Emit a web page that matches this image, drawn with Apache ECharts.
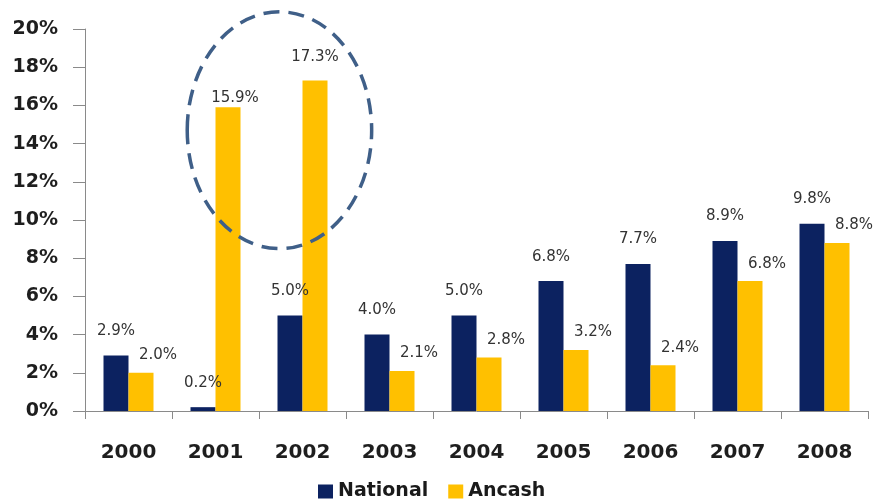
<!DOCTYPE html>
<html>
<head>
<meta charset="utf-8">
<script src="https://cdn.jsdelivr.net/npm/echarts@6/dist/echarts.min.js"></script>
<style>
html,body{margin:0;padding:0;background:#fff;}
#c{width:881px;height:503px;}
</style>
</head>
<body>
<div id="c"></div>
<script>
const years = ['2000','2001','2002','2003','2004','2005','2006','2007','2008'];
const national = [2.9, 0.2, 5.0, 4.0, 5.0, 6.8, 7.7, 8.9, 9.8];
const ancash = [2.0, 15.9, 17.3, 2.1, 2.8, 3.2, 2.4, 6.8, 8.8];
const yTicks = [0, 2, 4, 6, 8, 10, 12, 14, 16, 18, 20];

const NAVY = '#0c2260';
const GOLD = '#ffc000';
const AXIS = '#8a8a8a';

// label tweaks for the two highlighted bars (style only)
const ancashLabelOffset = {1: [7, 8], 2: [0, -6]};

const chart = echarts.init(document.getElementById('c'), null, {renderer: 'canvas'});

const option = {
  animation: false,
  backgroundColor: '#ffffff',
  grid: {left: 85, right: 13, top: 29, bottom: 92, containLabel: false},
  legend: {
    data: ['National', 'Ancash'],
    left: 313, top: 477,
    itemWidth: 15, itemHeight: 14, itemGap: 20,
    icon: 'rect',
    textStyle: {fontFamily: 'DejaVu Sans', fontWeight: 'bold', fontSize: 19, color: '#1a1a1a'}
  },
  xAxis: {
    type: 'category',
    data: years,
    axisLine: {lineStyle: {color: AXIS, width: 1}},
    axisTick: {show: true, length: 8, lineStyle: {color: AXIS}},
    axisLabel: {margin: 32, fontFamily: 'DejaVu Sans', fontWeight: 'bold', fontSize: 20, color: '#1e1e1e'},
    splitLine: {show: false}
  },
  yAxis: {
    type: 'value',
    min: yTicks[0], max: yTicks[yTicks.length - 1], interval: yTicks[1] - yTicks[0],
    axisLine: {show: true, lineStyle: {color: AXIS, width: 1}},
    axisTick: {show: true, length: 12, lineStyle: {color: AXIS}},
    axisLabel: {margin: 27, fontFamily: 'DejaVu Sans', fontWeight: 'bold', fontSize: 19, color: '#1e1e1e',
      formatter: v => v + '%'},
    splitLine: {show: false}
  },
  series: [
    {
      name: 'National', type: 'bar', data: national,
      barWidth: 25, barGap: '0%',
      itemStyle: {color: NAVY},
      label: {show: true, position: 'top', distance: 17, fontFamily: 'DejaVu Sans', fontSize: 15, color: '#333',
        formatter: p => p.value.toFixed(1) + '%'}
    },
    {
      name: 'Ancash', type: 'bar',
      data: ancash.map((v, i) => ancashLabelOffset[i] ? {value: v, label: {offset: ancashLabelOffset[i]}} : v),
      barWidth: 25, barGap: '0%',
      itemStyle: {color: GOLD},
      label: {show: true, position: 'top', distance: 10, offset: [17, 0], fontFamily: 'DejaVu Sans', fontSize: 15, color: '#333',
        formatter: p => p.value.toFixed(1) + '%'}
    }
  ]
};
chart.setOption(option);

// dashed ellipse highlighting 2001-2002 Ancash, positioned through the axes
const ellipseCenterValue = 14.7;
const ellipseHalfHeightValue = 6.2;
const pA = chart.convertToPixel({gridIndex: 0}, [1, ellipseCenterValue]);
const pB = chart.convertToPixel({gridIndex: 0}, [2, ellipseCenterValue]);
const pTop = chart.convertToPixel({gridIndex: 0}, [1, ellipseCenterValue + ellipseHalfHeightValue]);
const step = pB[0] - pA[0];
chart.setOption({
  graphic: [{
    type: 'ellipse',
    shape: {cx: pA[0] + step * 0.735, cy: pA[1], rx: step * 1.06, ry: pA[1] - pTop[1]},
    style: {fill: 'none', stroke: '#3f5f88', lineWidth: 3.5, lineDash: [16, 9]},
    z: 100
  }]
});
</script>
</body>
</html>
